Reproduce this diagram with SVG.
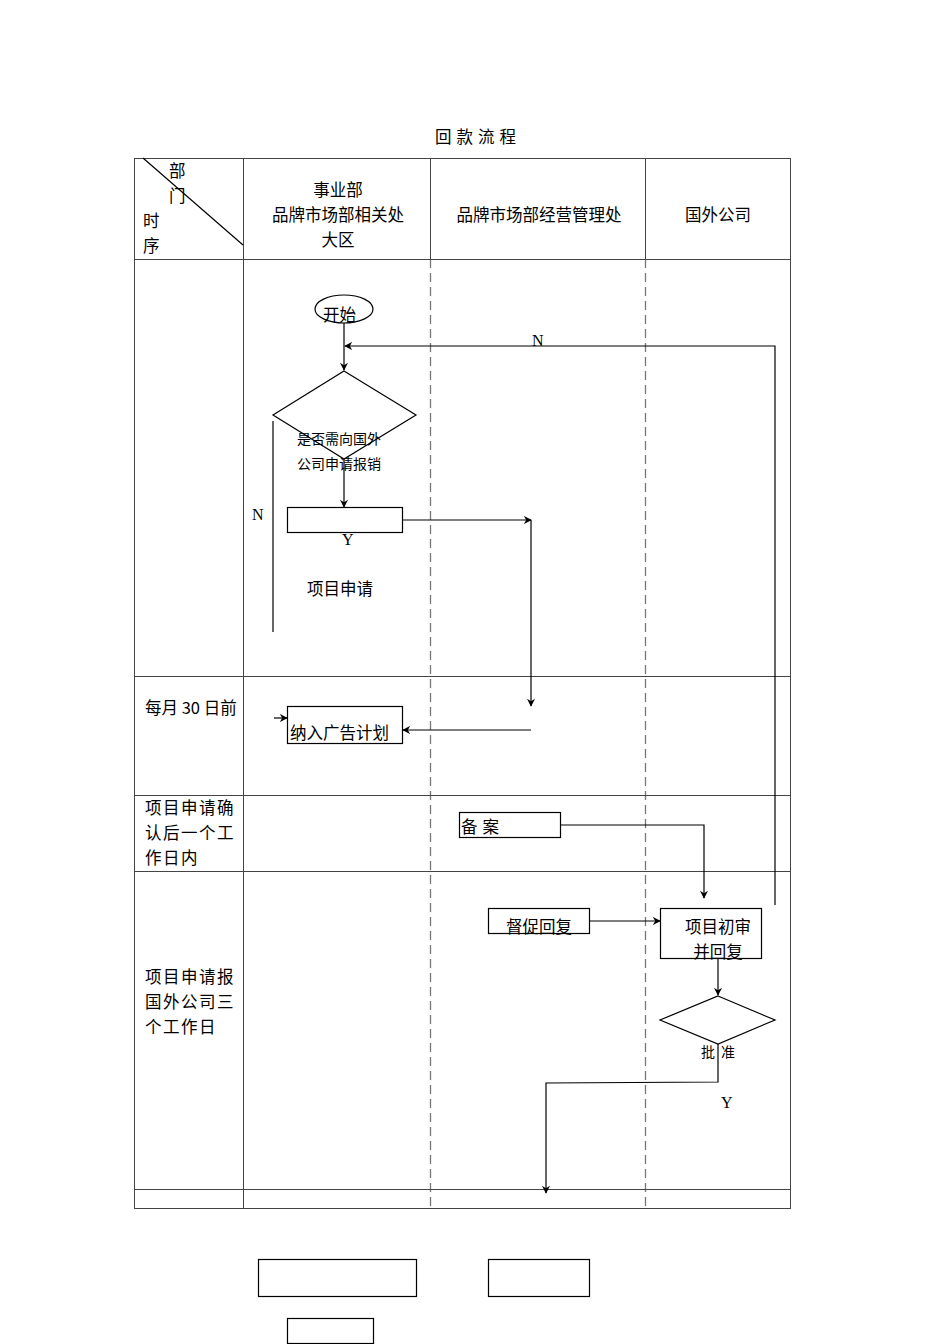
<svg xmlns="http://www.w3.org/2000/svg" width="950" height="1344" viewBox="0 0 950 1344">
<defs>
<marker id="ah" viewBox="0 0 10 10" refX="9" refY="5" markerWidth="8" markerHeight="8" orient="auto" markerUnits="userSpaceOnUse">
<path d="M0,0 L10,5 L0,10 L3,5 Z" fill="#000"/>
</marker>
<style>
.grid{stroke:#444;stroke-width:1;fill:none}
.dash{stroke:#777;stroke-width:1.3;stroke-dasharray:9,5;fill:none}
.shape{stroke:#000;stroke-width:1.2;fill:#fff}
.conn{stroke:#000;stroke-width:1.2;fill:none}
.t{font-family:"Noto Sans CJK SC","Liberation Serif",sans-serif;font-size:16.5px;fill:#000}
.ts{font-family:"Noto Sans CJK SC","Liberation Serif",sans-serif;font-size:14px;fill:#000}
.lt{font-family:"Liberation Serif","Noto Sans CJK SC",serif;font-size:16px;fill:#000}
.m{text-anchor:middle}
.ls{letter-spacing:1.5px}
</style>
</defs>
<rect width="950" height="1344" fill="#fff"/>
<text class="t m" x="478" y="143" style="letter-spacing:5px">回款流程</text>
<g id="table">
<rect class="grid" x="134.5" y="158.5" width="656" height="1050"/>
<line class="grid" x1="243.5" y1="158" x2="243.5" y2="1208"/>
<line class="grid" x1="430.5" y1="158" x2="430.5" y2="259"/>
<line class="grid" x1="645.5" y1="158" x2="645.5" y2="259"/>
<line class="dash" x1="430.5" y1="259" x2="430.5" y2="1208"/>
<line class="dash" x1="645.5" y1="259" x2="645.5" y2="1208"/>
<line class="grid" x1="134" y1="259.5" x2="790" y2="259.5"/>
<line class="grid" x1="134" y1="676.5" x2="790" y2="676.5"/>
<line class="grid" x1="134" y1="795.5" x2="790" y2="795.5"/>
<line class="grid" x1="134" y1="871.5" x2="790" y2="871.5"/>
<line class="grid" x1="134" y1="1189.5" x2="790" y2="1189.5"/>
<line x1="143" y1="158" x2="243" y2="245" stroke="#000" stroke-width="1.2"/>
<text class="t" x="169" y="177">部</text>
<text class="t" x="169" y="202">门</text>
<text class="t" x="143" y="227">时</text>
<text class="t" x="143" y="252">序</text>
<text class="t m" x="338" y="196">事业部</text>
<text class="t m" x="338" y="221">品牌市场部相关处</text>
<text class="t m" x="338" y="246">大区</text>
<text class="t m" x="539" y="221">品牌市场部经营管理处</text>
<text class="t m" x="718" y="221">国外公司</text>
<text class="t" x="145" y="714">每月 30 日前</text>
<text class="t ls" x="145" y="814">项目申请确</text>
<text class="t ls" x="145" y="839">认后一个工</text>
<text class="t ls" x="145" y="864">作日内</text>
<text class="t ls" x="145" y="983">项目申请报</text>
<text class="t ls" x="145" y="1008">国外公司三</text>
<text class="t ls" x="145" y="1033">个工作日</text>
</g>
<g id="connectors">
<line class="conn" x1="344" y1="323" x2="344" y2="370" marker-end="url(#ah)"/>
<polyline class="conn" points="775,905 775,346 345,346" marker-end="url(#ah)"/>
<line class="conn" x1="344" y1="459" x2="344" y2="507" marker-end="url(#ah)"/>
<line class="conn" x1="273" y1="421" x2="273" y2="632"/>
<line class="conn" x1="402" y1="520" x2="531" y2="520" marker-end="url(#ah)"/>
<line class="conn" x1="531" y1="520" x2="531" y2="706" marker-end="url(#ah)"/>
<line class="conn" x1="531" y1="730" x2="403" y2="730" marker-end="url(#ah)"/>
<line class="conn" x1="274" y1="718" x2="287" y2="718" marker-end="url(#ah)"/>
<polyline class="conn" points="560,825 704,825 704,898" marker-end="url(#ah)"/>
<line class="conn" x1="589" y1="921" x2="660" y2="921" marker-end="url(#ah)"/>
<line class="conn" x1="718" y1="958" x2="718" y2="995" marker-end="url(#ah)"/>
<polyline class="conn" points="718,1044 718,1082 546,1083 546,1193" marker-end="url(#ah)"/>
<text class="lt" x="532" y="346">N</text>
<text class="lt" x="252" y="520">N</text>
<text class="lt" x="342" y="545">Y</text>
<text class="lt" x="721" y="1108">Y</text>
</g>
<g id="start">
<ellipse class="shape" cx="344" cy="309" rx="29" ry="14"/>
<text class="t" x="323" y="321">开始</text>
</g>
<g id="decision1">
<polygon class="shape" points="344,371 416,415 344,459 273,415"/>
<text class="ts" x="297" y="444">是否需向国外</text>
<text class="ts" x="297" y="469">公司申请报销</text>
</g>
<g id="apply">
<rect class="shape" x="287.5" y="507.5" width="115" height="25"/>
<text class="t" x="307" y="595">项目申请</text>
</g>
<g id="plan">
<rect class="shape" x="287.5" y="706.5" width="115" height="37"/>
<text class="t" x="290" y="739">纳入广告计划</text>
</g>
<g id="record">
<rect class="shape" x="459.5" y="812.5" width="101" height="25"/>
<text class="t" x="461" y="833" style="letter-spacing:5px">备案</text>
</g>
<g id="urge">
<rect class="shape" x="488.5" y="908.5" width="101" height="25"/>
<text class="t" x="506" y="933">督促回复</text>
</g>
<g id="review">
<rect class="shape" x="660.5" y="908.5" width="101" height="50"/>
<text class="t m" x="718" y="933">项目初审</text>
<text class="t m" x="718" y="958">并回复</text>
</g>
<g id="decision2">
<polygon class="shape" points="718,996 775,1020 718,1044 660,1020"/>
<text class="ts" x="701" y="1057" style="letter-spacing:6px">批准</text>
</g>
<g id="blank1"><rect class="shape" x="258.5" y="1259.5" width="158" height="37"/></g>
<g id="blank2"><rect class="shape" x="488.5" y="1259.5" width="101" height="37"/></g>
<g id="blank3"><rect class="shape" x="287.5" y="1318.5" width="86" height="25"/></g>
</svg>
